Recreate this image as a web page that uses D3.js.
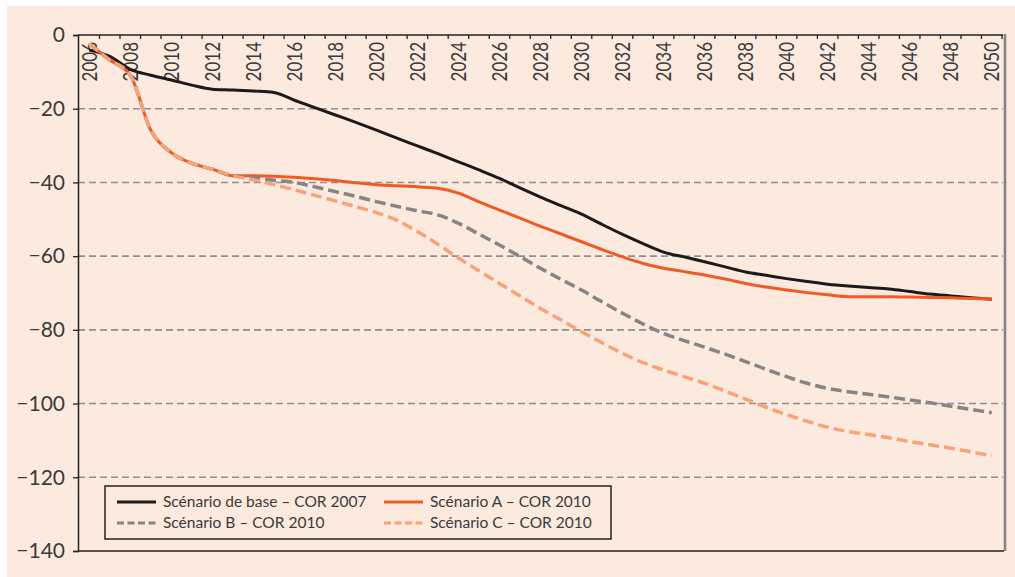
<!DOCTYPE html>
<meta charset="utf-8">

<!-- Load d3.js -->
<script src="https://d3js.org/d3.v7.min.js"></script>

<body style="margin:0;background:#fff">
<div id="chart"></div>
</body>

<style>
text { font-family: Lato, "Open Sans", sans-serif; fill: #3a3a3a; }
</style>

<script>

// years on the category axis
var years = d3.range(2006, 2051)

// series values, one per year (2006 -> 2050)
var baseCor2007 = [-4.1, -5.8, -9.3, -10.9, -12.2, -13.6, -14.7, -14.9, -15.2, -15.6,
  -17.7, -19.7, -21.7, -23.7, -25.8, -28.0, -30.1, -32.2, -34.4, -36.6,
  -38.9, -41.5, -44.0, -46.3, -48.6, -51.4, -54.1, -56.6, -58.9, -60.2,
  -61.5, -62.9, -64.3, -65.2, -66.1, -66.9, -67.6, -68.1, -68.5, -68.9,
  -69.6, -70.3, -70.8, -71.3, -71.7]

var scenA = [-2.4, -6.8, -10.9, -25.8, -31.9, -34.8, -36.4, -38.2, -38.2, -38.3,
  -38.6, -39.0, -39.5, -40.1, -40.6, -40.9, -41.2, -41.6, -42.9, -45.3,
  -47.5, -49.7, -51.9, -54.0, -56.1, -58.2, -60.2, -62.0, -63.3, -64.2,
  -65.1, -66.2, -67.4, -68.4, -69.2, -69.9, -70.5, -71.0, -71.0, -71.0,
  -71.1, -71.2, -71.3, -71.5, -71.6]

var scenB = [-2.4, -6.8, -10.9, -25.8, -31.9, -34.8, -36.4, -38.2, -38.7, -39.4,
  -40.0, -41.2, -42.5, -43.8, -45.2, -46.5, -47.7, -48.8, -51.1, -54.0,
  -57.0, -60.1, -63.3, -66.3, -69.2, -72.4, -75.5, -78.4, -81.0, -82.9,
  -84.7, -86.6, -88.6, -90.7, -92.7, -94.5, -95.9, -96.8, -97.5, -98.2,
  -99.0, -99.8, -100.7, -101.6, -102.5]

var scenC = [-2.4, -6.8, -10.9, -25.8, -31.9, -34.8, -36.4, -38.2, -39.3, -40.6,
  -42.0, -43.5, -45.0, -46.6, -48.2, -50.3, -53.3, -56.8, -60.5, -64.0,
  -67.4, -70.8, -74.2, -77.3, -80.5, -83.5, -86.4, -88.9, -90.9, -92.7,
  -94.5, -96.6, -98.8, -101.0, -103.0, -104.8, -106.4, -107.6, -108.4, -109.3,
  -110.3, -111.2, -112.1, -113.1, -114.2]

var seriesNames = ["Scénario de base – COR 2007", "Scénario A – COR 2010",
                   "Scénario B – COR 2010", "Scénario C – COR 2010"]

var yTicks = [0, -20, -40, -60, -80, -100, -120, -140]

var series = [
  {name: seriesNames[0], values: baseCor2007, color: "#1c1a1a", dash: null, width: 3},
  {name: seriesNames[1], values: scenA, color: "#f15a24", dash: null, width: 3},
  {name: seriesNames[2], values: scenB, color: "#858585", dash: "11,5", width: 3.5},
  {name: seriesNames[3], values: scenC, color: "#f9a27a", dash: "11,5", width: 3.5}
]

var W = 1015, H = 577
var svg = d3.select("#chart")
  .append("svg")
    .attr("width", W)
    .attr("height", H)

// peach background
svg.append("rect")
  .attr("x", 7).attr("y", 6)
  .attr("width", W - 7).attr("height", H - 6)
  .attr("fill", "#fdeade")

// plot box
var pLeft = 78, pRight = 1003, pTop = 35, pBottom = 551

var x = d3.scaleBand()
  .domain(years)
  .range([79, 1002])

var y = d3.scaleLinear()
  .domain([-140, 0])
  .range([pBottom, pTop])

// dashed gridlines
svg.append("g")
  .selectAll("line")
  .data(yTicks.filter(function(d){ return d != 0 && d != -140 }))
  .enter()
  .append("line")
    .attr("x1", pLeft).attr("x2", pRight)
    .attr("y1", function(d){ return y(d) })
    .attr("y2", function(d){ return y(d) })
    .attr("stroke", "#8f8f8f")
    .attr("stroke-width", 1.6)
    .attr("stroke-dasharray", "7,4")

// right border of the plot
svg.append("line")
  .attr("x1", 1005).attr("x2", 1005)
  .attr("y1", pTop - 1).attr("y2", pBottom)
  .attr("stroke", "#848484")
  .attr("stroke-width", 2.6)

// bottom line
svg.append("line")
  .attr("x1", pLeft).attr("x2", 1004)
  .attr("y1", pBottom).attr("y2", pBottom)
  .attr("stroke", "#222").attr("stroke-width", 1.5)

// Y axis
var yAxis = svg.append("g")
  .attr("transform", "translate(" + pLeft + ",0)")
  .call(d3.axisLeft(y).tickValues(yTicks).tickSize(5).tickPadding(8).tickFormat(d3.format("d")))
yAxis.select(".domain").attr("stroke", "#222").attr("stroke-width", 1.5)
yAxis.selectAll(".tick line").attr("stroke", "#222").attr("stroke-width", 1.3)
yAxis.selectAll("text")
  .attr("font-size", 21)
  .attr("fill", "#3a3a3a")
  .style("font-family", "Lato, sans-serif")

// X axis on top: tick marks between categories
var xg = svg.append("g").attr("transform", "translate(0," + pTop + ")")
xg.append("line")
  .attr("x1", pLeft).attr("x2", pRight)
  .attr("stroke", "#222").attr("stroke-width", 1.5)
xg.selectAll(".tk")
  .data(years.slice(1).concat([2051]))
  .enter()
  .append("line")
    .attr("x1", function(d){ return d == 2051 ? x(2050) + x.bandwidth() : x(d) })
    .attr("x2", function(d){ return d == 2051 ? x(2050) + x.bandwidth() : x(d) })
    .attr("y1", 0).attr("y2", 4)
    .attr("stroke", "#222").attr("stroke-width", 1.3)

// rotated year labels, one every two years
xg.selectAll(".lbl")
  .data(years.filter(function(d){ return d % 2 == 0 }))
  .enter()
  .append("text")
    .attr("transform", function(d){
      return "translate(" + (x(d) + x.bandwidth() / 2) + ",7) scale(1.25,1) rotate(-90)" })
    .attr("text-anchor", "end")
    .attr("dy", "0.36em")
    .attr("font-size", 17)
    .text(function(d){ return d })

// series lines
var line = d3.line()
  .curve(d3.curveMonotoneX)
  .x(function(d, i) { return x(years[i]) + x.bandwidth() / 2 })
  .y(function(d) { return y(d) })

svg.selectAll(".series")
  .data(series)
  .enter()
  .append("path")
    .attr("fill", "none")
    .attr("stroke", function(d){ return d.color })
    .attr("stroke-width", function(d){ return d.width })
    .attr("stroke-dasharray", function(d){ return d.dash })
    .attr("stroke-linejoin", "round")
    .attr("d", function(d){ return line(d.values) })

// legend
var lg = svg.append("g")
lg.append("rect")
  .attr("x", 105).attr("y", 486)
  .attr("width", 506).attr("height", 53)
  .attr("fill", "#fdeade")
  .attr("stroke", "#222").attr("stroke-width", 1.5)

var legendPos = [[117, 502], [384, 502], [117, 523], [384, 523]]
series.forEach(function(s, i){
  var p = legendPos[i]
  lg.append("line")
    .attr("x1", p[0]).attr("x2", p[0] + 39)
    .attr("y1", p[1]).attr("y2", p[1])
    .attr("stroke", s.color)
    .attr("stroke-width", 3)
    .attr("stroke-dasharray", s.dash ? "7,3.5" : null)
  lg.append("text")
    .attr("x", p[0] + 46)
    .attr("y", p[1])
    .attr("dy", "0.35em")
    .attr("font-size", 15.5)
    .text(s.name)
})

</script>
